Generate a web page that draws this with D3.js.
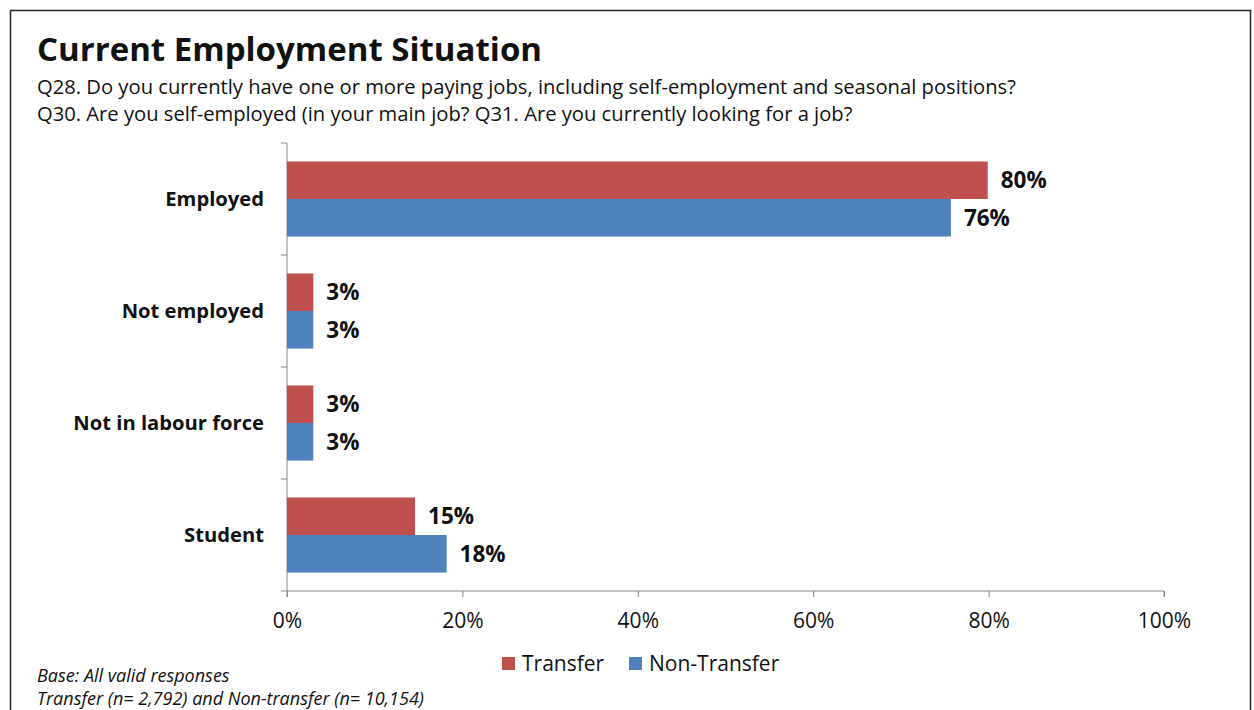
<!DOCTYPE html>
<html>
<head>
<meta charset="utf-8">
<script src="https://cdn.jsdelivr.net/npm/d3@7"></script>
<style>
  body { margin:0; background:#fff; }
  text { font-family: "Open Sans", "Noto Sans", sans-serif; }
</style>
</head>
<body>
<div id="chart"></div>
<script>
var categories = ["Employed", "Not employed", "Not in labour force", "Student"];
var seriesNames = ["Transfer", "Non-Transfer"];
var transfer = [79.9, 3, 3, 14.6];
var nonTransfer = [75.7, 3, 3, 18.2];
var valueLabels = [["80%", "3%", "3%", "15%"], ["76%", "3%", "3%", "18%"]];
var xTicks = [0, 20, 40, 60, 80, 100];
var colors = ["#C0504D", "#4F81BD"];

var W = 1254, H = 710;
var svg = d3.select("#chart").append("svg")
	.attr("width", W).attr("height", H);

svg.append("rect").attr("x", 10.5).attr("y", 10.5)
	.attr("width", 1240).attr("height", 720)
	.attr("fill", "white").attr("stroke", "#222").attr("stroke-width", 1.5);

svg.append("text").attr("x", 37).attr("y", 61)
	.attr("font-size", 33).attr("font-weight", "bold").attr("fill", "#111")
	.text("Current Employment Situation");
svg.append("text").attr("x", 37).attr("y", 94).attr("font-size", 20.2).attr("fill", "#111")
	.text("Q28. Do you currently have one or more paying jobs, including self-employment and seasonal positions?");
svg.append("text").attr("x", 37).attr("y", 121).attr("font-size", 20.2).attr("fill", "#111")
	.text("Q30. Are you self-employed (in your main job? Q31. Are you currently looking for a job?");

var x = d3.scaleLinear().domain([0, 100]).range([287, 1164]);
var y = d3.scaleBand().domain(categories).range([143, 591]).paddingInner(0.33).paddingOuter(0.165);
var ySub = d3.scaleBand().domain(seriesNames).range([0, y.bandwidth()]);

// axes
var xAxis = svg.append("g").attr("transform", "translate(0,591)")
	.call(d3.axisBottom(x).tickValues(xTicks).tickFormat(function(d){ return d + "%"; }).tickSizeOuter(6).tickSize(6));
xAxis.select(".domain").attr("stroke", "#888").attr("d", "M287,0H1164V6");
xAxis.selectAll(".tick line").attr("stroke", "#888");
xAxis.selectAll(".tick text").attr("font-size", 21).attr("fill", "#111").attr("dy", "1.35em")
	.attr("font-family", "Open Sans");

var bandStep = (591 - 143) / categories.length;
var yEdges = d3.range(categories.length + 1).map(function(i){ return 143 + i * bandStep; });
svg.append("line").attr("x1", 287).attr("x2", 287).attr("y1", 143).attr("y2", 597).attr("stroke", "#888");
svg.selectAll(".ytick").data(yEdges).enter().append("line")
	.attr("x1", 281).attr("x2", 287).attr("y1", function(d){ return d; }).attr("y2", function(d){ return d; })
	.attr("stroke", "#888");

svg.selectAll(".cat").data(categories).enter().append("text")
	.attr("x", 264).attr("y", function(d){ return y(d) + y.bandwidth() / 2; })
	.attr("dy", "0.35em").attr("text-anchor", "end")
	.attr("font-size", 20.2).attr("font-weight", "bold").attr("fill", "#111")
	.text(function(d){ return d; });

var series = [transfer, nonTransfer];
series.forEach(function(vals, s){
	var g = svg.append("g");
	g.selectAll("rect").data(vals).enter().append("rect")
		.attr("x", x(0))
		.attr("y", function(d, i){ return y(categories[i]) + ySub(seriesNames[s]); })
		.attr("width", function(d){ return x(d) - x(0); })
		.attr("height", ySub.bandwidth())
		.attr("fill", colors[s]);
	g.selectAll("text").data(vals).enter().append("text")
		.attr("x", function(d){ return x(d) + 13; })
		.attr("y", function(d, i){ return y(categories[i]) + ySub(seriesNames[s]) + ySub.bandwidth() / 2; })
		.attr("dy", "0.35em").attr("font-size", 22.5).attr("font-weight", "bold").attr("fill", "#111")
		.text(function(d, i){ return valueLabels[s][i]; });
});

// legend
var legendX = [502, 629];
seriesNames.forEach(function(n, i){
	svg.append("rect").attr("x", legendX[i]).attr("y", 657).attr("width", 13).attr("height", 13).attr("fill", colors[i]);
	svg.append("text").attr("x", legendX[i] + 20).attr("y", 671).attr("font-size", 21).attr("fill", "#111").text(n);
});

svg.append("text").attr("x", 37).attr("y", 682).attr("font-size", 18).attr("font-style", "italic").attr("fill", "#111")
	.text("Base: All valid responses");
svg.append("text").attr("x", 37).attr("y", 705).attr("font-size", 18).attr("font-style", "italic").attr("fill", "#111")
	.text("Transfer (n= 2,792) and Non-transfer (n= 10,154)");
</script>
</body>
</html>
